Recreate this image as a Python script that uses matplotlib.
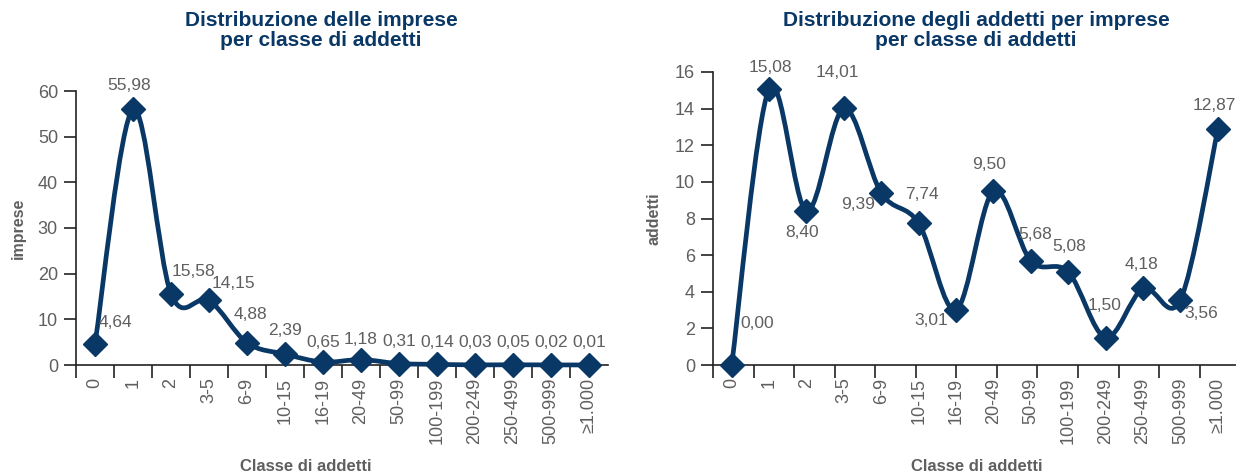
import numpy as np
import matplotlib
matplotlib.use("Agg")
import matplotlib.pyplot as plt
from matplotlib.path import Path
from matplotlib.patches import PathPatch

plt.rcParams['font.family'] = ['Liberation Sans', 'DejaVu Sans']

NAVY = '#0a3866'
GREY = '#5f5f5f'
AXIS = '#222222'

classi = ['0', '1', '2', '3-5', '6-9', '10-15', '16-19', '20-49', '50-99',
          '100-199', '200-249', '250-499', '500-999', '≥1.000']

imprese = [4.64, 55.98, 15.58, 14.15, 4.88, 2.39, 0.65, 1.18, 0.31,
           0.14, 0.03, 0.05, 0.02, 0.01]

addetti = [0.00, 15.08, 8.40, 14.01, 9.39, 7.74, 3.01, 9.50, 5.68,
           5.08, 1.50, 4.18, 3.56, 12.87]

# label offsets in pixels (dx, dy) from each marker
off_imprese = [(20, 21), (-4, 24), (22, 22), (24, 17), (3, 28), (0, 24),
               (0, 20), (0, 20), (0, 22), (0, 22), (0, 22), (0, 22), (0, 22), (0, 22)]
off_addetti = [(25, 42), (1, 21), (-4, -21), (-7, 36), (-23, -11), (3, 29),
               (-25, -11), (-4, 27), (4, 26), (1, 25), (-1, 32), (-2, 24),
               (21, -14), (-4, 24)]


def smooth_path(x, y):
    # Catmull-Rom style cubic Bezier through every point
    pts = np.column_stack([x, y]).astype(float)
    ext = np.vstack([pts[0], pts, pts[-1]])
    verts = [pts[0]]
    codes = [Path.MOVETO]
    for i in range(len(pts) - 1):
        p0, p1, p2, p3 = ext[i], ext[i + 1], ext[i + 2], ext[i + 3]
        c1 = p1 + (p2 - p0) / 6.0
        c2 = p2 - (p3 - p1) / 6.0
        verts += [c1, c2, p2]
        codes += [Path.CURVE4] * 3
    return Path(verts, codes)


def draw_panel(ax, values, offsets, ymax, ystep, ylabel, xlim, minor):
    x = np.arange(len(values))
    ax.add_patch(PathPatch(smooth_path(x, values), fill=False, edgecolor=NAVY,
                           lw=3.4, capstyle='round', joinstyle='round',
                           clip_on=False, zorder=3))
    ax.plot(x, values, 'D', color=NAVY, ms=12.5, clip_on=False, zorder=4)
    for xi, v, (dx, dy) in zip(x, values, offsets):
        ax.annotate(f"{v:.2f}".replace('.', ','), (xi, v), xytext=(dx, dy),
                    textcoords='offset pixels', ha='center', va='center',
                    fontsize=12.5, color=GREY, zorder=5)

    ax.set_xlim(*xlim)
    ax.set_ylim(0, ymax)
    ax.set_yticks(np.arange(0, ymax + 1, ystep))
    ax.set_xticks(x)
    ax.set_xticklabels(classi, rotation=90)
    ax.set_xticks(minor, minor=True)

    for s in ['top', 'right']:
        ax.spines[s].set_visible(False)
    for s in ['left', 'bottom']:
        ax.spines[s].set_color(AXIS)
        ax.spines[s].set_linewidth(1.2)

    ax.tick_params(axis='x', which='major', length=0, pad=9,
                   labelsize=13, labelcolor=GREY)
    ax.tick_params(axis='x', which='minor', length=9, width=1.2, color=AXIS)
    ax.tick_params(axis='y', length=9, width=1.2, pad=4, color=AXIS,
                   labelsize=13, labelcolor=GREY)

    ax.set_ylabel(ylabel, fontsize=11.5, fontweight='bold', color=GREY)
    ax.set_xlabel('Classe di addetti', fontsize=12, fontweight='bold', color=GREY)


fig = plt.figure(figsize=(12.36, 4.75), dpi=100)
W, H = 1236, 475

ax1 = fig.add_axes([76 / W, 110 / H, 532 / W, 274 / H])
draw_panel(ax1, imprese, off_imprese, 60, 10, 'imprese', (-0.5, 13.5),
           np.arange(-0.5, 13, 1.0))
ax1.yaxis.set_label_coords(-0.094, 0.5)
ax1.xaxis.set_label_coords(0.432, -0.343)

ax2 = fig.add_axes([713 / W, 110 / H, 527.3 / W, 293 / H])
draw_panel(ax2, addetti, off_addetti, 16, 2, 'addetti', (-0.5, 13.6),
           np.linspace(-0.5, 13.6, 14)[:-1])
ax2.yaxis.set_label_coords(-0.097, 0.5)
ax2.xaxis.set_label_coords(0.5, -0.321)

fig.text(321 / W, 1 - 11 / H, 'Distribuzione delle imprese\nper classe di addetti',
         ha='center', va='top', fontsize=15, fontweight='bold', color=NAVY,
         linespacing=1.1)
fig.text(976 / W, 1 - 11 / H, 'Distribuzione degli addetti per imprese\nper classe di addetti',
         ha='center', va='top', fontsize=15, fontweight='bold', color=NAVY,
         linespacing=1.1)

fig.savefig('out.png', dpi=100)
